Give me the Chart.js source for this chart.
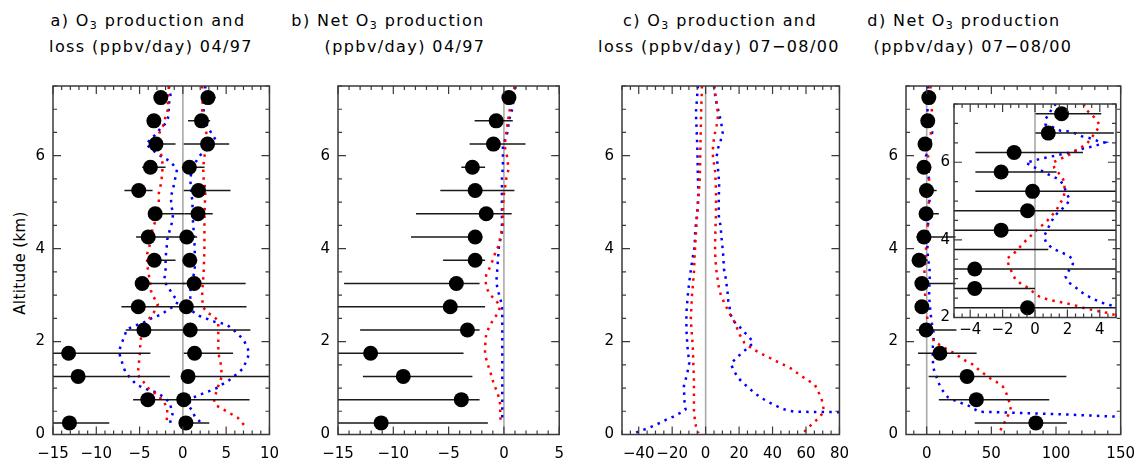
<!DOCTYPE html>
<html>
<head>
<meta charset="utf-8">
<script src="https://cdn.jsdelivr.net/npm/chart.js@4.4.0/dist/chart.umd.min.js"></script>
<style>
  body { margin: 0; background: #fff; width: 1146px; height: 462px; position: relative; overflow: hidden;
         font-family: "DejaVu Sans", sans-serif; color: #000; }
  canvas { position: absolute; top: 0; }
  .t { position: absolute; font-size: 16px; line-height: 16px; white-space: nowrap;
       transform: translateX(-50%); letter-spacing: 1.4px; }
  .t sub { font-size: 11px; line-height: 0; vertical-align: -3px; }
  .ylab { position: absolute; left: 20px; top: 263px; font-size: 15px; letter-spacing: 0.4px; white-space: nowrap;
          transform: translate(-50%, -50%) rotate(-90deg); }
</style>
</head>
<body>
<div class="t" style="left:148px;top:12.5px">a) O<sub>3</sub> production and</div>
<div class="t" style="left:151px;top:39px">loss (ppbv/day) 04/97</div>
<div class="t" style="left:388px;top:12.5px">b) Net O<sub>3</sub> production</div>
<div class="t" style="left:405px;top:39px">(ppbv/day) 04/97</div>
<div class="t" style="left:720px;top:12.5px">c) O<sub>3</sub> production and</div>
<div class="t" style="left:719px;top:39px">loss (ppbv/day) 07−08/00</div>
<div class="t" style="left:964px;top:12.5px">d) Net O<sub>3</sub> production</div>
<div class="t" style="left:973px;top:39px">(ppbv/day) 07−08/00</div>
<div class="ylab">Altitude (km)</div>

<canvas id="pa" width="290" height="462" style="left:0px"></canvas>
<canvas id="pb" width="285" height="462" style="left:290px"></canvas>
<canvas id="pc" width="285" height="462" style="left:575px"></canvas>
<canvas id="pd" width="286" height="462" style="left:860px"></canvas>
<canvas id="pi" width="210" height="260" style="left:925px;top:90px"></canvas>

<script>
// altitude of the observation bins (km), bottom to top
const altBins = [0.25, 0.75, 1.25, 1.75, 2.25, 2.75, 3.25, 3.75, 4.25, 4.75, 5.25, 5.75, 6.25, 6.75, 7.25];

// a) observed O3 loss and production (ppbv/day) with ranges
const aLoss   = [-13.1, -4.05, -12.1, -13.2, -4.5, -5.15, -4.7, -3.3, -4.0, -3.2, -5.1, -3.75, -3.1, -3.35, -2.55];
const aLossLo = [-15.5, -5.75, -15.5, -15.5, -6.6, -7.1, -5.2, -3.8, -5.4, -4.0, -6.75, -4.7, -3.9, -3.6, -2.9];
const aLossHi = [-8.5, 0, -1.5, -3.75, 0, 0, 0.3, -0.85, 0, 0.2, -3.5, -2.0, -0.85, -3.1, -2.2];
const aProd   = [0.35, 0.1, 0.6, 1.35, 0.85, 0.4, 1.3, 0.8, 0.45, 1.75, 1.8, 0.75, 2.85, 2.15, 2.9];
const aProdLo = [-0.2, 0, 0, 0.1, 0, 0, 0, 0.3, 0, 0.2, 0.1, 0.3, 0.1, 0.6, 2.2];
const aProdHi = [3.05, 7.7, 10.5, 5.8, 7.8, 7.35, 7.25, 1.3, 1.65, 3.45, 5.5, 2.5, 5.35, 3.15, 3.8];

// a) model profiles [value, altitude]
const aProdRed = [[2.23,7.5],[2.3,7.25],[2.23,7.0],[2.3,6.75],[2.7,6.5],[2.86,6.25],[2.5,6.0],[2.34,5.75],[2.4,5.5],
  [2.6,5.25],[2.55,5.0],[2.5,4.75],[2.49,4.5],[2.49,4.25],[2.49,4.0],[2.45,3.75],[2.4,3.5],[2.3,3.25],[2.23,3.0],
  [2.3,2.75],[2.86,2.62],[3.53,2.55],[4.09,2.44],[4.09,2.25],[4.09,2.0],[4.1,1.75],[4.4,1.5],[4.5,1.25],[4.0,1.0],
  [3.6,0.75],[3.72,0.64],[5.03,0.5],[6.34,0.36],[7.09,0.2]];
const aProdBlue = [[2.6,7.5],[2.5,7.25],[2.4,7.0],[2.5,6.75],[3.24,6.5],[3.76,6.35],[3.3,6.2],[1.93,6.0],[1.11,5.75],
  [0.85,5.5],[0.95,5.25],[1.11,5.0],[1.11,4.75],[1.2,4.5],[1.3,4.25],[1.37,4.0],[1.37,3.75],[1.37,3.5],[0.9,3.25],
  [0.85,3.0],[0.9,2.75],[1.11,2.65],[1.93,2.55],[2.68,2.5],[3.35,2.44],[5.03,2.37],[5.78,2.26],[6.45,2.15],[7.09,2.01],
  [7.46,1.86],[7.7,1.75],[7.3,1.58],[7.01,1.43],[6.15,1.29],[5.22,1.15],[4.47,1.07],[3.91,1.0],[2.98,0.93],[2.04,0.86],
  [1.11,0.79],[0.6,0.64],[1.11,0.5],[1.37,0.39],[1.9,0.29],[1.85,0.2]];
const aLossRed = [[-1.62,7.49],[-1.66,7.34],[-1.73,7.17],[-1.73,6.99],[-2.0,6.84],[-2.25,6.66],[-2.74,6.48],[-2.82,6.34],
  [-2.63,6.12],[-2.37,5.91],[-2.37,5.69],[-2.48,5.44],[-2.78,5.19],[-2.78,4.97],[-3.0,4.69],[-3.53,4.4],[-3.64,4.18],
  [-4.01,3.97],[-4.13,3.88],[-4.13,3.66],[-3.94,3.44],[-3.75,3.23],[-3.68,3.09],[-3.31,2.94],[-2.89,2.8],[-3.38,2.62],
  [-3.64,2.55],[-4.13,2.44],[-4.69,2.3],[-4.8,2.15],[-4.87,2.01],[-4.95,1.86],[-4.98,1.72],[-5.06,1.58],[-5.13,1.43],
  [-5.25,1.29],[-4.62,1.15],[-4.02,1.0],[-3.0,0.86],[-2.25,0.72],[-1.81,0.57],[-1.81,0.43],[-1.88,0.25]];
const aLossBlue = [[-1.62,7.5],[-1.43,7.3],[-1.62,7.1],[-1.65,6.85],[-1.96,6.7],[-2.52,6.6],[-3.19,6.45],[-3.75,6.35],
  [-4.27,6.25],[-3.53,6.12],[-2.44,5.98],[-1.4,5.87],[-0.68,5.7],[-0.9,5.5],[-1.06,5.35],[-1.4,5.1],[-1.3,4.9],
  [-1.14,4.75],[-1.2,4.6],[-1.51,4.4],[-1.8,4.2],[-1.88,4.0],[-2.0,3.8],[-2.0,3.5],[-2.19,3.3],[-1.62,3.15],[-1.14,3.0],
  [-0.57,2.87],[-0.8,2.78],[-1.69,2.69],[-2.52,2.58],[-3.56,2.51],[-4.13,2.44],[-5.7,2.33],[-6.48,2.26],[-6.74,2.12],
  [-7.12,1.94],[-7.38,1.79],[-7.2,1.65],[-6.93,1.5],[-6.67,1.36],[-6.11,1.22],[-5.33,1.07],[-4.13,0.97],[-3.0,0.9],
  [-2.07,0.79],[-1.51,0.68],[-1.32,0.54],[-1.2,0.43],[-1.43,0.29],[-1.5,0.2]];

// b) observed net O3 production (ppbv/day) with ranges
const bNet   = [-11.1, -3.85, -9.1, -12.05, -3.3, -4.85, -4.3, -2.6, -2.6, -1.6, -2.6, -2.85, -0.95, -0.7, 0.45];
const bNetLo = [-15.5, -15.5, -12.75, -15.5, -13.0, -15.5, -14.45, -5.5, -8.4, -7.95, -5.75, -3.85, -3.1, -2.65, -0.15];
const bNetHi = [-1.45, -2.2, -2.85, -3.65, -2.2, -1.7, -2.2, -1.7, -1.95, 0.7, 0.95, -1.7, 1.95, 0.8, 1.1];
const bNetRed = [[0.96,7.49],[0.75,7.2],[0.5,6.96],[0.4,6.8],[0.3,6.64],[0.2,6.49],[0.06,6.21],[0.27,6.0],[0.42,5.71],
  [0.2,5.49],[0.12,5.35],[0.0,5.17],[-0.09,4.9],[-0.09,4.5],[-0.51,4.05],[-0.78,3.91],[-1.05,3.73],[-1.29,3.59],
  [-1.59,3.44],[-1.68,3.34],[-1.59,3.17],[-1.29,3.02],[-0.78,2.9],[-0.33,2.76],[-0.54,2.61],[-0.93,2.49],[-1.29,2.33],
  [-1.59,2.18],[-1.65,2.04],[-1.71,1.86],[-1.71,1.72],[-1.5,1.54],[-1.29,1.39],[-1.11,1.25],[-0.9,1.07],[-0.63,0.93],
  [-0.39,0.75],[-0.33,0.61],[-0.33,0.46],[-0.3,0.28]];
const bNetBlue = [[1.05,7.49],[0.75,7.0],[0.5,6.8],[0.3,6.49],[-0.09,6.2],[-0.09,5.8],[-0.18,5.5],[-0.18,4.35],
  [-0.45,4.05],[-0.54,3.77],[-0.6,3.55],[-0.69,3.27],[-0.48,3.05],[-0.3,2.9],[-0.18,2.76],[-0.15,2.6],[-0.15,2.0],
  [-0.15,1.0],[-0.15,0.28]];

// c) model production and loss profiles [value, altitude]
const cProdRed = [[5.0,7.5],[6.6,7.14],[7.4,6.85],[6.5,6.64],[5.6,6.49],[4.6,6.28],[4.2,6.06],[4.6,5.92],[5.8,5.63],
  [6.2,5.2],[6.2,4.77],[5.8,4.34],[5.6,4.05],[5.8,3.77],[6.6,3.48],[8.1,3.12],[9.3,2.98],[11.2,2.83],[14.1,2.62],
  [17.6,2.4],[19.9,2.18],[23.2,1.97],[28.6,1.83],[34.4,1.72],[42.7,1.57],[50.6,1.43],[57.6,1.25],[65.3,1.07],
  [69.2,0.78],[70.1,0.64],[70.7,0.5],[67.6,0.35],[64.3,0.25],[61.1,0.14],[58.0,0.02]];
const cProdBlue = [[5.0,7.5],[6.0,7.2],[7.9,6.93],[9.3,6.71],[10.2,6.49],[8.9,6.31],[7.5,6.17],[6.6,5.99],[7.4,5.71],
  [8.1,5.42],[7.8,4.99],[7.9,4.7],[8.9,4.49],[9.6,4.2],[10.4,3.91],[11.0,3.55],[11.9,3.39],[12.5,3.23],[13.1,3.06],
  [13.5,2.89],[14.3,2.74],[14.9,2.58],[16.8,2.44],[20.2,2.32],[23.2,2.2],[26.3,2.09],[28.4,1.97],[25.1,1.86],
  [21.8,1.76],[18.5,1.65],[15.2,1.53],[16.2,1.42],[19.3,1.22],[22.8,1.1],[26.1,0.99],[29.7,0.88],[33.6,0.78],
  [37.5,0.7],[41.4,0.63],[44.9,0.57],[48.7,0.52],[53,0.49],[80,0.48],[150,0.38],[250,0.3]];
const cLossRed = [[-2.2,7.5],[-2.7,6.93],[-3.1,6.21],[-3.5,5.49],[-5.0,4.77],[-5.8,4.34],[-6.6,3.84],[-7.0,3.48],
  [-8.2,2.98],[-8.9,2.48],[-7.7,1.9],[-7.0,1.18],[-7.0,0.46],[-6.4,0.32],[-5.8,0.18],[-4.3,0.03]];
const cLossBlue = [[-4.6,7.5],[-5.8,6.93],[-5.0,6.21],[-4.6,5.49],[-4.3,5.17],[-5.0,4.77],[-6.2,4.41],[-6.6,4.05],
  [-8.2,3.7],[-9.6,3.34],[-10.7,2.98],[-11.5,2.62],[-11.5,2.26],[-10.9,1.9],[-9.8,1.54],[-10.9,1.33],[-13.0,1.04],
  [-12.6,0.68],[-12.0,0.54],[-15.4,0.46],[-19.6,0.38],[-23.5,0.32],[-27.3,0.25],[-31.5,0.18],[-35.6,0.12],
  [-39.8,0.07],[-43.7,0.0]];

// d) observed net O3 production (ppbv/day) with ranges
const dNet   = [84.4, 38.4, 31.2, 10.2, -0.46, -3.72, -3.72, -5.9, -2.09, -0.46, -0.15, -2.09, -1.29, 0.82, 1.64];
const dNetLo = [37.1, 9.4, 1.5, -6.7, -8, -8, -8, -8, -8, -6, -3.68, -3.68, -3.68, 0.03, 0.03];
const dNetHi = [108.4, 94.8, 108, 38.6, 23, 0.0, 22.3, 0.82, 22.3, 9.4, 7.7, 1.33, 2.96, 4.87, 4.09];
const dNetRed = [[3.0,7.5],[3.12,7.37],[3.47,7.23],[3.84,7.08],[3.99,6.94],[3.75,6.78],[3.47,6.62],[3.19,6.47],
  [2.77,6.36],[2.36,6.27],[2.09,6.19],[1.09,5.99],[1.2,5.85],[1.58,5.66],[1.82,5.5],[1.82,5.29],[1.78,5.09],
  [1.54,4.94],[1.33,4.77],[1.02,4.62],[0.71,4.47],[0.34,4.34],[-0.01,4.21],[-0.34,4.07],[-0.69,3.93],[-1.0,3.78],
  [-1.31,3.65],[-1.73,3.52],[-1.62,3.34],[-1.42,3.16],[-1.21,2.98],[-0.84,2.86],[-0.45,2.77],[-0.07,2.64],
  [0.34,2.52],[0.76,2.47],[1.27,2.42],[1.78,2.38],[2.2,2.34],[2.67,2.29],[3.13,2.23],[3.6,2.19],[4.05,2.15],
  [4.47,2.12],[4.98,2.06],[5.7,1.99],[10.7,1.92],[16.1,1.83],[20.6,1.76],[25.5,1.67],[30.5,1.58],[35.4,1.51],
  [39.6,1.41],[44.1,1.31],[49.0,1.21],[54.0,1.13],[58.9,1.03],[61.4,0.9],[63.2,0.75],[65.2,0.6],[63.9,0.46],
  [61.4,0.34],[58.5,0.16],[55.2,0.02]];
const dNetBlue = [[1.3,7.5],[1.12,7.44],[0.9,7.27],[0.65,7.11],[0.65,6.97],[1.07,6.91],[1.58,6.81],[1.99,6.8],
  [2.44,6.75],[2.88,6.67],[3.39,6.62],[3.99,6.53],[4.3,6.51],[4.0,6.46],[3.6,6.41],[3.02,6.36],[2.16,6.25],
  [1.68,6.21],[1.27,6.17],[0.79,6.13],[0.34,6.09],[-0.14,6.03],[-0.57,5.99],[-0.18,5.9],[0.26,5.81],[0.71,5.71],
  [1.12,5.63],[1.54,5.54],[1.78,5.39],[1.95,5.2],[2.16,5.03],[1.89,4.88],[1.21,4.62],[0.76,4.27],[0.55,4.08],
  [0.69,3.93],[1.07,3.78],[1.52,3.7],[1.93,3.62],[2.3,3.52],[2.34,3.38],[2.09,3.21],[1.89,3.05],[2.05,2.91],
  [2.44,2.8],[2.81,2.67],[3.22,2.56],[3.64,2.47],[4.05,2.39],[4.5,2.34],[4.93,2.28],[5.5,2.15],[5.2,2.0],
  [4.8,1.9],[4.6,1.68],[5.2,1.43],[8.9,1.13],[11.4,0.98],[16.4,0.8],[24.3,0.7],[31.7,0.63],[40.4,0.49],
  [100,0.44],[149.3,0.38],[220,0.3]];

// axis ticks
const aTicksX = [-15, -10, -5, 0, 5, 10];
const bTicksX = [-15, -10, -5, 0, 5];
const cTicksX = [-40, -20, 0, 20, 40, 60, 80];
const dTicksX = [0, 50, 100, 150];
const insetTicksX = [-4, -2, 0, 2, 4];
const altTicks = [0, 2, 4, 6];
const insetAltTicks = [2, 4, 6];

const FONT = '"DejaVu Sans", sans-serif';
const RED = '#ff0000';
const BLUE = '#0000ff';

function fmt(v) {
    return v < 0 ? '\u2212' + Math.abs(v) : String(v);
}

function profile(arr, color) {
    return {
        data: arr.map(p => ({ x: p[0], y: p[1] })),
        showLine: true, pointRadius: 0, borderColor: color, borderWidth: 2.5,
        borderDash: [2.5, 5.2], tension: 0, clip: 0, order: 3
    };
}

function dots(vals) {
    return {
        data: vals.map((v, i) => ({ x: v, y: altBins[i] })),
        pointRadius: 7.5, pointBackgroundColor: '#000', pointBorderWidth: 0,
        showLine: false, clip: 0, order: 0
    };
}

function bars(lo, hi) {
    const pts = [];
    lo.forEach((l, i) => {
        pts.push({ x: l, y: altBins[i] }, { x: hi[i], y: altBins[i] }, { x: null, y: null });
    });
    return {
        data: pts, showLine: true, spanGaps: false, pointRadius: 0,
        borderColor: '#1a1a1a', borderWidth: 1.5, clip: 0, order: 1
    };
}

// frame, inward ticks on all four sides and the grey zero line
const framePlugin = {
    id: 'frame',
    beforeDatasetsDraw(chart) {
        const { ctx, chartArea: a, scales: { x } } = chart;
        const x0 = x.getPixelForValue(0);
        ctx.save();
        ctx.strokeStyle = '#a9a9a9';
        ctx.lineWidth = 1.6;
        ctx.beginPath();
        ctx.moveTo(x0, a.top);
        ctx.lineTo(x0, a.bottom);
        ctx.stroke();
        ctx.restore();
    },
    afterDatasetsDraw(chart, args, opts) {
        const { ctx, chartArea: a, scales: { x, y } } = chart;
        ctx.save();
        ctx.strokeStyle = '#3a3a3a';
        ctx.lineWidth = 1.5;
        ctx.strokeRect(a.left, a.top, a.right - a.left, a.bottom - a.top);
        ctx.lineWidth = 1.2;
        ctx.beginPath();
        const run = (scale, step, len, horiz) => {
            const n0 = Math.ceil(scale.min / step - 1e-6);
            const n1 = Math.floor(scale.max / step + 1e-6);
            for (let n = n0; n <= n1; n++) {
                const p = scale.getPixelForValue(n * step);
                if (horiz) {
                    ctx.moveTo(p, a.bottom); ctx.lineTo(p, a.bottom - len);
                    ctx.moveTo(p, a.top); ctx.lineTo(p, a.top + len);
                } else {
                    ctx.moveTo(a.left, p); ctx.lineTo(a.left + len, p);
                    ctx.moveTo(a.right, p); ctx.lineTo(a.right - len, p);
                }
            }
        };
        run(x, opts.xMinor, 4, true);
        run(x, opts.xMajor, 8, true);
        run(y, 0.5, 4, false);
        run(y, 2, 8, false);
        ctx.stroke();
        ctx.restore();
    }
};

function makeChart(id, c) {
    return new Chart(document.getElementById(id), {
        type: 'scatter',
        data: { datasets: c.datasets },
        options: {
            responsive: false,
            animation: false,
            devicePixelRatio: 1,
            events: [],
            layout: { padding: { top: c.padTop, right: c.padRight, bottom: 0, left: 0 } },
            plugins: {
                legend: { display: false },
                tooltip: { enabled: false },
                frame: { xMinor: c.xMinor, xMajor: c.xMajor }
            },
            scales: {
                x: {
                    type: 'linear', min: c.xMin, max: c.xMax,
                    afterBuildTicks: s => { s.ticks = c.xTicks.map(v => ({ value: v })); },
                    afterFit: s => { s.height = c.xAxisH; },
                    grid: { display: false, drawTicks: false },
                    border: { display: false },
                    ticks: {
                        padding: c.xPad, color: '#000', autoSkip: false, maxRotation: 0,
                        font: { family: FONT, size: 15 }, callback: v => fmt(v)
                    }
                },
                y: {
                    type: 'linear', min: c.yMin, max: 7.5,
                    afterBuildTicks: s => { s.ticks = c.yTicks.map(v => ({ value: v })); },
                    afterFit: s => { s.width = c.yAxisW; },
                    grid: { display: false, drawTicks: false },
                    border: { display: false },
                    ticks: {
                        padding: c.yPad, color: '#000', autoSkip: false,
                        font: { family: FONT, size: 15 }, callback: v => fmt(v)
                    }
                }
            }
        },
        plugins: [framePlugin]
    });
}

const mainPanel = { yMin: 0, yTicks: altTicks, padTop: 86, xAxisH: 27.5, xPad: 11, yPad: 8 };

makeChart('pa', Object.assign({}, mainPanel, {
    xMin: -15, xMax: 10, xTicks: aTicksX, xMajor: 5, xMinor: 1, yAxisW: 53, padRight: 14,
    datasets: [profile(aProdRed, RED), profile(aLossRed, RED), profile(aProdBlue, BLUE), profile(aLossBlue, BLUE),
        bars(aLossLo, aLossHi), bars(aProdLo, aProdHi), dots(aLoss), dots(aProd)]
}));

makeChart('pb', Object.assign({}, mainPanel, {
    xMin: -15, xMax: 5, xTicks: bTicksX, xMajor: 5, xMinor: 1, yAxisW: 48, padRight: 15,
    datasets: [profile(bNetRed, RED), profile(bNetBlue, BLUE), bars(bNetLo, bNetHi), dots(bNet)]
}));

makeChart('pc', Object.assign({}, mainPanel, {
    xMin: -50, xMax: 80, xTicks: cTicksX, xMajor: 20, xMinor: 5, yAxisW: 47, padRight: 15,
    datasets: [profile(cProdRed, RED), profile(cLossRed, RED), profile(cProdBlue, BLUE), profile(cLossBlue, BLUE)]
}));

makeChart('pd', Object.assign({}, mainPanel, {
    xMin: -16, xMax: 150, xTicks: dTicksX, xMajor: 50, xMinor: 10, yAxisW: 46, padRight: 17,
    datasets: [profile(dNetRed, RED), profile(dNetBlue, BLUE), bars(dNetLo, dNetHi), dots(dNet)]
}));

// inset of panel d, 2-7.5 km
makeChart('pi', {
    yMin: 2, yTicks: insetAltTicks, padTop: 14, xAxisH: 32.5, xPad: 4, yPad: 4,
    xMin: -5, xMax: 5, xTicks: insetTicksX, xMajor: 2, xMinor: 0.5, yAxisW: 29, padRight: 19,
    datasets: [profile(dNetRed, RED), profile(dNetBlue, BLUE), bars(dNetLo, dNetHi), dots(dNet)]
});
</script>
</body>
</html>
